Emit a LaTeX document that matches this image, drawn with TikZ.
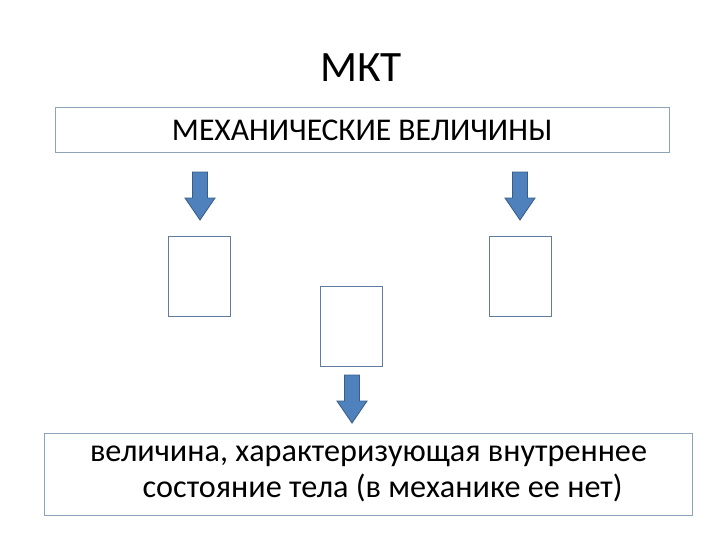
\documentclass[tikz,border=0pt]{standalone}
\usepackage{fontspec}
\setmainfont{Carlito}
\usepackage{tikz}
\usetikzlibrary{calc}
\definecolor{MKBlue}{HTML}{4F81BD}
\definecolor{MKEdge}{HTML}{385D8A}
\definecolor{MKLine}{HTML}{8CA3BA}
\tikzset{
  framebox/.style={draw=MKLine,line width=0.5pt,fill=white},
  blockarrow/.style={fill=MKBlue,draw=MKEdge,line width=0.6pt,line join=miter}
}
% block arrow pointing down, top centre given
\newcommand{\downarrowblk}[1]{%
  \draw[blockarrow] ($(#1)+(-7.5,0)$) -- ++(15,0) -- ++(0,26) -- ++(7.5,0)
    -- ++(-15,22) -- ++(-15,-22) -- ++(7.5,0) -- cycle;}

\begin{document}
\begin{tikzpicture}[x=0.025cm,y=-0.025cm]
\path[use as bounding box] (0,0) rectangle (720,540);
\node[font=\fontsize{30.8}{36}\selectfont] (title) at (361,68) {МКТ};
% top box
\draw[framebox] (55,107) rectangle (669,152);
\node[font=\fontsize{22.5}{27}\selectfont] (mech) at (362,130) {МЕХАНИЧЕСКИЕ ВЕЛИЧИНЫ};
% arrows
\coordinate (al) at (200,172);
\coordinate (ar) at (520,172);
\coordinate (am) at (352,375);
\downarrowblk{al}
\downarrowblk{ar}
\downarrowblk{am}
% small boxes
\draw[framebox,draw=MKEdge!80] (168,236) rectangle (230,316);
\draw[framebox,draw=MKEdge!80] (320,286) rectangle (382,366);
\draw[framebox,draw=MKEdge!80] (489,236) rectangle (551,316);
% bottom box
\draw[framebox] (44,433) rectangle (692,515);
\node[font=\fontsize{22.9}{25.5}\selectfont,align=center] (inner) at (368.5,474)
  {величина, характеризующая внутреннее\\\hspace*{20pt}состояние тела (в механике ее нет)};
\end{tikzpicture}
\end{document}
